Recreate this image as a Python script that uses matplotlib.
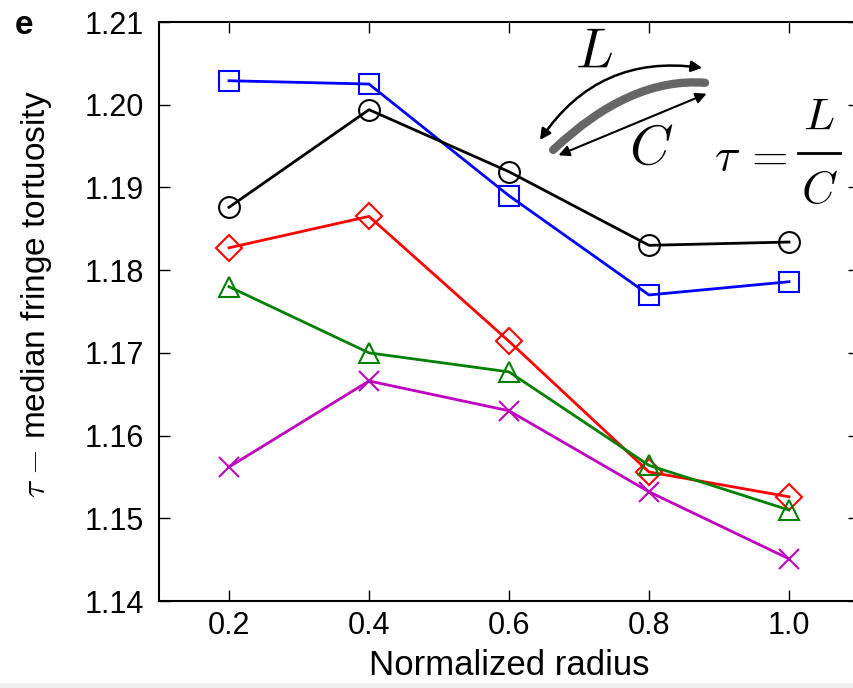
import matplotlib
matplotlib.use("Agg")
import matplotlib.pyplot as plt
from matplotlib.path import Path
from matplotlib.patches import PathPatch, Rectangle

plt.rcParams['font.family'] = ['Liberation Sans', 'DejaVu Sans']
plt.rcParams['mathtext.fontset'] = 'cm'

radius = [0.2, 0.4, 0.6, 0.8, 1.0]
black_circles = [1.1876, 1.1994, 1.1919, 1.1830, 1.1834]
blue_squares = [1.2029, 1.2025, 1.1890, 1.1770, 1.1786]
red_diamonds = [1.1827, 1.1865, 1.1714, 1.1556, 1.1526]
green_triangles = [1.1780, 1.1700, 1.1677, 1.1564, 1.1510]
magenta_crosses = [1.1562, 1.1666, 1.1630, 1.1532, 1.1451]

series = [
    (blue_squares, 'b', 's'),
    (black_circles, 'k', 'o'),
    (red_diamonds, 'r', 'D'),
    (green_triangles, 'g', '^'),
    (magenta_crosses, 'm', 'x'),
]

fig = plt.figure(figsize=(8.54, 6.88), dpi=100)
# thin grey strip at the bottom of the scanned panel
fig.patches.append(Rectangle((0, 0), 1, 5 / 688, transform=fig.transFigure,
                             facecolor='#f0f0f0', edgecolor='none'))
ax = fig.add_axes([159 / 854, 87 / 688, 700 / 854, 579 / 688])

for vals, col, mk in series:
    ms = 13 if mk == 'D' else 15
    ax.plot(radius, vals, color=col, marker=mk, markersize=ms,
            markerfacecolor='none', markeredgecolor=col,
            markeredgewidth=1.5, linewidth=2)

ax.set_xlim(0.1, 1.1)
ax.set_ylim(1.14, 1.21)
ax.set_xticks(radius)
ax.set_xticklabels(['0.2', '0.4', '0.6', '0.8', '1.0'])
ax.set_yticks([1.14, 1.15, 1.16, 1.17, 1.18, 1.19, 1.20, 1.21])
ax.set_yticklabels(['1.14', '1.15', '1.16', '1.17', '1.18', '1.19', '1.20', '1.21'])
ax.tick_params(direction='in', top=True, right=True, length=8, width=1,
               labelsize=22)
ax.tick_params(axis='x', pad=7)
ax.tick_params(axis='y', pad=11)
for s in ax.spines.values():
    s.set_linewidth(1.5)

ax.set_xlabel('Normalized radius', fontsize=25)
ax.xaxis.set_label_coords(0.5, -0.083)
ax.set_ylabel(r'$\tau$ $-$ median fringe tortuosity', fontsize=24)
ax.yaxis.set_label_coords(-0.15, 0.53)
fig.text(24 / 854, 1 - 25 / 688, 'e', fontsize=24, fontweight='bold',
         ha='center', va='center')

# inset sketch of L and C
t = ax.transAxes
verts = [(0.563, 0.779), (0.673, 0.905), (0.78, 0.895)]
curve = PathPatch(Path(verts, [Path.MOVETO, Path.CURVE3, Path.CURVE3]),
                  transform=t, facecolor='none', edgecolor='#666666',
                  linewidth=6, capstyle='round')
ax.add_patch(curve)
ax.annotate('', xy=(0.78, 0.92), xytext=(0.542, 0.792), xycoords=t,
            textcoords=t,
            arrowprops=dict(arrowstyle='<|-|>', color='k', lw=1.8,
                            mutation_scale=16,
                            connectionstyle='arc3,rad=-0.32'))
ax.annotate('', xy=(0.786, 0.878), xytext=(0.567, 0.768), xycoords=t,
            textcoords=t,
            arrowprops=dict(arrowstyle='<|-|>', color='k', lw=1.5,
                            mutation_scale=16))
ax.text(0.621, 0.945, r'$L$', transform=t, fontsize=40, ha='center', va='center')
ax.text(0.703, 0.779, r'$C$', transform=t, fontsize=40, ha='center', va='center')

# tau = L / C, set piece by piece
ax.text(0.811, 0.744, r'$\tau$', transform=t, fontsize=34, ha='center', va='baseline')
ax.text(0.866, 0.744, r'$=$', transform=t, fontsize=34, ha='center', va='baseline')
ax.text(0.943, 0.813, r'$L$', transform=t, fontsize=33, ha='center', va='baseline')
ax.text(0.943, 0.687, r'$C$', transform=t, fontsize=33, ha='center', va='baseline')
ax.plot([0.913, 0.973], [0.774, 0.774], transform=t, color='k', lw=2,
        clip_on=False)

fig.savefig('out.png', dpi=100)
